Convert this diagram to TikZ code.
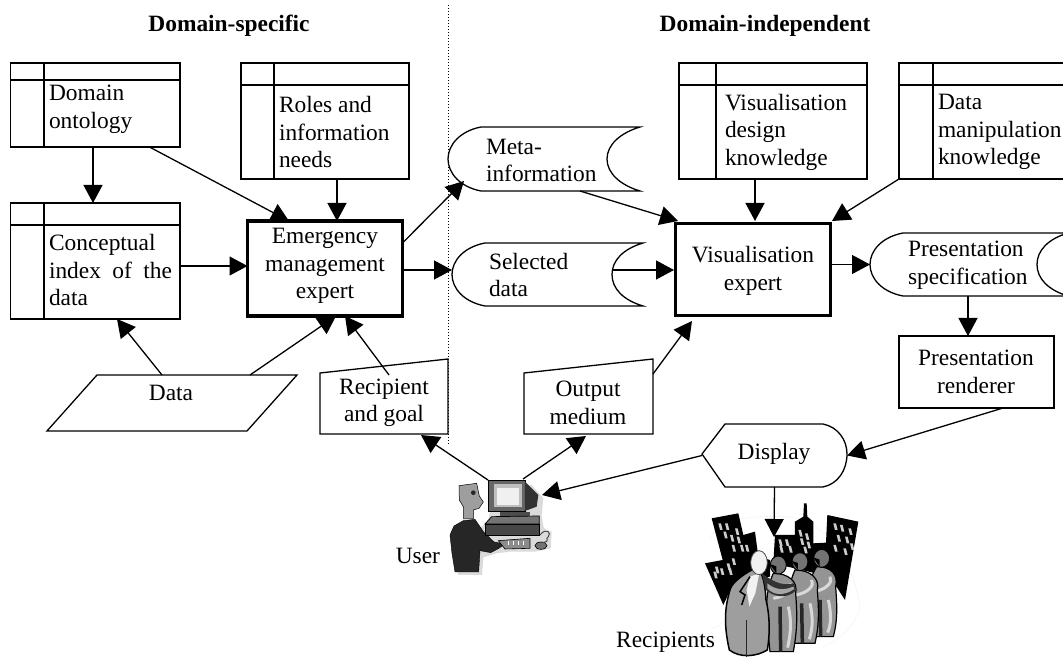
\documentclass[tikz,border=0pt]{standalone}
\usepackage{fontspec}
\setmainfont{Liberation Serif}
\usetikzlibrary{arrows.meta}
\tikzset{
  thinline/.style={line width=1.3pt,draw=black,line join=miter},
  txt/.style={font=\fontsize{23.4}{27.5}\selectfont,inner sep=0pt,outer sep=0pt,align=left,text=black},
  ctxt/.style={txt,align=center},
  title/.style={font=\fontsize{23.4}{27}\selectfont\bfseries,inner sep=0pt,align=center},
  conn/.style={line width=1.3pt,draw=black,-{Triangle[length=18pt,width=19pt]}},
}
% name, x1, y1, x2, y2, extra style
\newcommand{\regionnode}[6]{\node[inner sep=0pt,outer sep=0pt,minimum width={(#4)-(#2)},minimum height={(#5)-(#3)},#6] (#1) at ({((#2)+(#4))/2},{((#3)+(#5))/2}) {};}
% name x1 y1 x2 y2 colx heady
\newcommand{\tablebox}[7]{\regionnode{#1}{#2}{#3}{#4}{#5}{thinline,draw,fill=white}
  \draw[thinline] (#6,#3) -- (#6,#5) (#2,#7) -- (#4,#7);}
% name L top R bot inner
\newcommand{\storedbox}[6]{\pgfmathsetmacro{\midy}{((#3)+(#5))/2}
  \draw[thinline,fill=white] (#4,#3) -- ({#2+33},#3) .. controls ({#2+12},{#3+4}) and (#2,{\midy-14}) .. (#2,\midy) .. controls (#2,{\midy+14}) and ({#2+12},{#5-4}) .. ({#2+33},#5) -- (#4,#5) .. controls ({#4-20},{#5-6}) and (#6,{\midy+14}) .. (#6,\midy) .. controls (#6,{\midy-14}) and ({#4-20},{#3+6}) .. (#4,#3) -- cycle;
  \regionnode{#1}{#2}{#3}{#4}{#5}{}}
\begin{document}
\begin{tikzpicture}[x=1pt,y=-1pt]
\useasboundingbox (0,0) rectangle (1063,660);
\fill[white] (0,0) rectangle (1063,660);

\regionnode{divider}{447.5}{5}{448.5}{445}{}
\draw[line width=1pt,dotted] (divider.north) -- (divider.south);

\node[title] (t1) at (229,26) {Domain-specific};
\node[title] (t2) at (765,26) {Domain-independent};

% knowledge tables
\tablebox{dom}{10.5}{63}{180}{147}{44}{80}
\tablebox{roles}{241}{63}{409}{179}{274}{85}
\tablebox{concept}{10.5}{203}{180}{319}{44}{225}
\tablebox{vdk}{679}{63}{867}{179}{716}{85}
\tablebox{dmk}{899}{63}{1068}{179}{933}{85}

\node[txt,anchor=west] (tdom) at (49,109.5) {Domain\\ontology};
\node[txt,anchor=west] (troles) at (279,132) {Roles and\\information\\needs};
\node[txt,anchor=west] (tconcept) at (49,270) {Conceptual\\\hbox to 123pt{index\hfill of\hfill the}\\data};
\node[txt,anchor=west] (tvdk) at (725,132) {Visualisation\\design\\knowledge};
\node[txt,anchor=west] (tdmk) at (938,132) {Data\\manipulation\\knowledge};

% experts
\regionnode{emerg}{247.5}{221}{402.5}{316}{draw,line width=3.6pt,fill=white}
\node[ctxt] (temerg) at (325,266) {Emergency\\management\\expert};
\regionnode{vis}{675.5}{223.5}{830.5}{315.5}{draw,line width=3.6pt,fill=white}
\node[ctxt] (tvis) at (753,271) {Visualisation\\expert};

% stored data
\storedbox{meta}{448}{127}{640}{191}{607}
\node[txt,anchor=west] (tmeta) at (486,160.5) {Meta-\\information};
\storedbox{sel}{452}{243}{643}{306}{612}
\node[txt,anchor=west] (tsel) at (489,275) {Selected\\data};
\storedbox{pres}{870}{233}{1068}{296}{1037}
\node[txt,anchor=west] (tpres) at (908,265) {Presentation\\specification};

% renderer
\regionnode{rend}{899}{336}{1054}{408}{thinline,draw,fill=white}
\node[ctxt] (trend) at (976,372) {Presentation\\renderer};

% data
\draw[thinline,fill=white] (97,375) -- (297,375) -- (247,431) -- (47,431) -- cycle;
\regionnode{data}{47}{375}{297}{431}{}
\node[ctxt] (tdata) at (171,393) {Data};

% manual inputs
\draw[thinline,fill=white] (320,373) -- (448,359) -- (448,434) -- (320,434) -- cycle;
\regionnode{recip}{320}{359}{448}{434}{}
\node[ctxt] (trecip) at (384,403) {Recipient\\and goal};
\draw[thinline,fill=white] (524,373) -- (653,359) -- (653,434) -- (524,434) -- cycle;
\regionnode{out}{524}{359}{653}{434}{}
\node[ctxt] (tout) at (588,403) {Output\\medium};

% display
\draw[thinline,fill=white] (702,454) -- (725,424) -- (823,424) .. controls (838,427) and (847,440) .. (847,454) .. controls (847,470) and (838,484) .. (823,487) -- (725,487) -- cycle;
\regionnode{disp}{702}{424}{847}{487}{}
\node[ctxt] (tdisp) at (774,454) {Display};

% ---------- user clip art (coordinates of a 3x crop)
\begin{scope}[shift={(420,420)},x=0.3333pt,y=-0.3333pt]
  \fill[black!14] (225,195) -- (335,195) -- (370,235) -- (365,285) -- (370,320) -- (378,330) -- (395,335) -- (392,385) -- (345,395) -- (270,395) -- (230,400) -- (190,412) -- (186,465) -- (115,465) -- (105,400) -- (205,300) -- cycle;
  \fill[black!38,draw=black,line width=.5pt] (117,197) -- (170,190) -- (178,228) -- (190,246) -- (177,265) -- (160,270) -- (160,297) -- (131,297) -- (131,262) -- (118,240) -- cycle;
  \fill[black!85] (160,218) circle (7);
  \fill[black!85,draw=black] (130,302) -- (165,298) -- (190,335) -- (222,366) -- (255,372) -- (235,386) -- (212,398) -- (180,392) -- (176,456) -- (105,456) -- (96,400) -- (90,345) -- (102,318) -- cycle;
  \fill[black!60,draw=black,line width=.7pt] (205,180) -- (315,180) -- (315,275) -- (205,275) -- cycle;
  \fill[black!80] (315,185) -- (355,225) -- (350,260) -- (315,273) -- cycle;
  \fill[black!25] (222,193) rectangle (306,262);
  \fill[black!6] (231,203) rectangle (297,255);
  \fill[black!70] (240,275) rectangle (330,296);
  \fill[black!55,draw=black,line width=.7pt] (195,312) -- (215,290) -- (358,288) -- (358,312) -- cycle;
  \fill[black!72,draw=black,line width=.7pt] (195,312) rectangle (358,345);
  \fill[black!45,draw=black,line width=.6pt] (235,362) -- (330,355) -- (330,385) -- (255,387) -- cycle;
  \foreach \k in {265,280,295,310}{\draw[white,line width=1pt] (\k,364) -- (\k,376);}
  \fill[black!55,draw=black,line width=.6pt] (363,377) ellipse (18 and 11);
  \draw[black!70,line width=1pt] (360,345) .. controls (380,320) and (395,340) .. (385,350) .. controls (372,358) and (395,362) .. (368,368);
\end{scope}

% ---------- recipients clip art (coordinates of a 3x crop)
\begin{scope}[shift={(690,420)},x=0.3333pt,y=-0.3333pt]
  \draw[black!6,line width=.4pt] (60,360) .. controls (70,300) and (180,285) .. (280,290) .. controls (400,290) and (490,420) .. (510,560) .. controls (500,610) and (450,660) .. (400,680) (110,590) .. controls (90,620) and (70,630) .. (60,620);
  \fill[black] (65,295) -- (145,280) -- (160,345) -- (195,335) -- (205,410) -- (240,420) -- (240,470) -- (130,490) -- (100,555) -- (45,430) -- (98,420) -- cycle;
  \fill[black] (255,345) -- (315,345) -- (315,305) -- (340,290) -- (342,250) -- (350,250) -- (352,290) -- (370,305) -- (370,370) -- (408,368) -- (412,285) -- (505,305) -- (465,540) -- (420,470) -- (250,430) -- cycle;
  \foreach \a/\b in {85/310,105/310,135/325,100/335,120/345,140/350,125/375,150/375,165/375,125/415,110/430,75/440,90/445,70/455,115/445,265/358,285/358,268/378,295/378,325/330,345/340,330/355,350/365,340/380,430/310,450/315,475/325,440/345,465/350,430/375,460/385,480/370}{
    \fill[black!20] (\a,\b) -- ({\a+8},\b) -- ({\a+13},{\b+20}) -- ({\a+5},{\b+20}) -- cycle;
  }
  % back figures
  \foreach \hx/\hy/\bx/\bot in {395/415/395/650,330/425/340/670,265/435/275/695}{
    \fill[black!42,draw=black,line width=1.2pt] (\hx-15,\hy+25) .. controls (\hx+30,\hy+25) and (\bx+50,\hy+50) .. (\bx+42,\hy+85) .. controls (\bx+45,\hy+130) and (\bx+50,\hy+180) .. (\bx+35,\bot) -- (\bx-35,\bot) .. controls (\bx-45,\hy+160) and (\bx-55,\hy+90) .. cycle;
    \draw[black!15,line width=3pt] (\bx+25,\hy+55) .. controls (\bx+35,\hy+70) and (\bx+15,\hy+95) .. (\bx-25,\hy+100);
    \draw[black!15,line width=3pt] (\bx+20,\hy+125) .. controls (\bx+30,\hy+170) and (\bx+28,\hy+200) .. (\bx+18,\bot-12);
    \draw[black!85,line width=3.5pt] (\bx-5,\hy+125) -- (\bx-3,\bot);
    \fill[black!55,draw=black,line width=1pt] (\hx,\hy) ellipse (24 and 27);
    \fill[black] (\hx-26,\hy-3) -- (\hx-6,\hy+4) -- (\hx-6,\hy+25) -- cycle;
  }
  % front figure
  \fill[black!38,draw=black,line width=1.5pt] (185,450) .. controls (150,470) and (125,490) .. (120,510) .. controls (105,560) and (100,610) .. (118,690) .. controls (150,715) and (200,710) .. (232,690) .. controls (240,640) and (240,590) .. (228,540) .. controls (226,500) and (220,470) .. (210,455) -- cycle;
  \fill[black!5] (180,470) -- (208,460) -- (196,520) -- (178,560) -- (170,510) -- cycle;
  \draw[black,line width=1.5pt] (180,470) -- (150,515) -- (165,525) -- (155,555);
  \draw[black!85,line width=1.5pt] (170,600) -- (170,710);
  \fill[black!80] (215,460) .. controls (245,480) and (270,500) .. (310,490) -- (320,510) .. controls (290,540) and (250,530) .. (228,510) -- cycle;
  \fill[black!35] (232,490) .. controls (250,505) and (275,515) .. (310,500) -- (313,507) .. controls (280,530) and (250,525) .. (232,505) -- cycle;
  \fill[black!5,draw=black!70,line width=.8pt] (207,428) ellipse (25 and 36);
\end{scope}

% connectors
\draw[conn] ([xshift=82.5pt]dom.south west) -- ([xshift=82.5pt]concept.north west);
\draw[conn] ([xshift=139pt]dom.south west) -- ([xshift=41.5pt]emerg.north west);
\draw[conn] ([xshift=96pt]roles.south west) -- ([xshift=89.5pt]emerg.north west);
\draw[conn] ([yshift=-63pt]concept.north east) -- ([yshift=-45pt]emerg.north west);
\draw[conn] ([xshift=115pt]data.north west) -- ([xshift=106.5pt]concept.south west);
\draw[conn] ([xshift=203pt]data.north west) -- ([xshift=88.5pt]emerg.south west);
\draw[conn] ([xshift=69pt,yshift=-16pt]recip.north west) -- ([xshift=97.5pt]emerg.south west);
\draw[conn] ([yshift=-22pt]emerg.north east) -- ([xshift=16pt,yshift=-54pt]meta.north west);
\draw[conn] ([yshift=-49pt]emerg.north east) -- ([yshift=4.5pt]sel.west);
\draw[conn] ([xshift=-60pt]meta.south east) -- ([xshift=2.5pt,yshift=2.5pt]vis.north west);
\draw[conn] ([xshift=-31pt,yshift=-27pt]sel.north east) -- ([xshift=-1.5pt,yshift=-46.5pt]vis.north west);
\draw[conn] ([yshift=-15pt]out.north east) -- ([xshift=16.5pt,yshift=-5.5pt]vis.south west);
\draw[conn] ([xshift=76pt]vdk.south west) -- ([xshift=79.5pt,yshift=2.5pt]vis.north west);
\draw[conn] (dmk.south west) -- ([xshift=1.5pt,yshift=2.5pt]vis.north east);
\draw[conn] ([xshift=1.5pt,yshift=-41pt]vis.north east) -- (pres.west);
\draw[conn] ([xshift=98pt]pres.south west) -- ([xshift=69pt]rend.north west);
\draw[conn] ([xshift=104pt]rend.south west) -- (disp.east);
\coordinate (userFace) at (542,495);
\draw[conn] (disp.west) -- (userFace);
\coordinate (userA) at (488,480);
\coordinate (userB) at (523,479);
\coordinate (crowd) at (774,537);
\draw[conn] (userA) -- ([xshift=101pt,yshift=-1pt]recip.south west);
\draw[conn] (userB) -- ([xshift=62pt,yshift=-2pt]out.south west);
\draw[conn] (disp.south) -- (crowd);

\node[txt,anchor=east] (user) at (440,556) {User};
\node[txt,anchor=east] (recipients) at (715,642) {Recipients};
\end{tikzpicture}
\end{document}
